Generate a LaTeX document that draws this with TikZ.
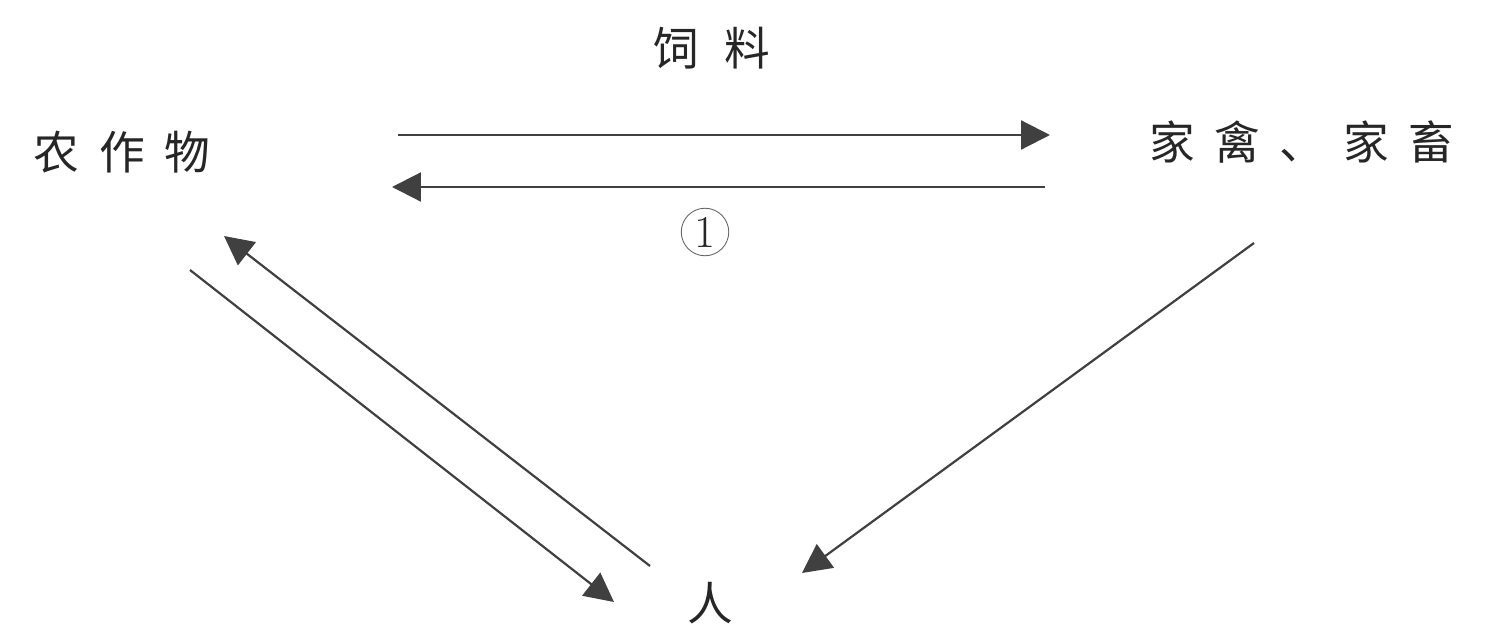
\documentclass[tikz,border=0pt]{standalone}
\usepackage{fontspec}
\newfontfamily\cjk{Noto Sans CJK SC}
\usetikzlibrary{arrows.meta}
\begin{document}
\begin{tikzpicture}[x=0.02cm,y=-0.02cm,
  lbl/.style={font=\cjk\fontsize{26}{26}\selectfont, inner sep=0pt, text=black!85},
  flow/.style={draw=black!75, line width=1.25pt, -{Triangle[length=0.58cm,width=0.58cm]}},
  circnum/.style={circle, draw=black!60, line width=0.5pt, minimum size=0.95cm, inner sep=0pt, font=\fontsize{26}{26}\selectfont, text=black!85}]
\useasboundingbox (0,0) rectangle (1489,639);
\fill[white] (0,0) rectangle (1489,639);
% labels
\node[lbl] (crop) at (122,152) {农\hspace{0.4cm}作\hspace{0.4cm}物};
\node[lbl] (stock) at (1302,142) {家\hspace{0.38cm}禽\hspace{0.38cm}、\hspace{0.38cm}家\hspace{0.38cm}畜};
\node[lbl] (feed) at (712,48) {饲\hspace{0.5cm}料};
\node[lbl] (person) at (710,603) {人};
\node[circnum] (one) at (705,232) {1};
% arrow end points
\coordinate (a1s) at (398,135);
\coordinate (a1e) at (1050,135);
\coordinate (a2s) at (1045,187);
\coordinate (a2e) at (392,187);
\coordinate (a3s) at (190,270);
\coordinate (a3e) at (614,602);
\coordinate (a4s) at (650,566);
\coordinate (a4e) at (224,236);
\coordinate (a5s) at (1254,243);
\coordinate (a5e) at (802,573);
% connectors
\draw[flow] (a1s) -- (a1e);
\draw[flow] (a2s) -- (a2e);
\draw[flow] (a3s) -- (a3e);
\draw[flow] (a4s) -- (a4e);
\draw[flow] (a5s) -- (a5e);
\end{tikzpicture}
\end{document}
